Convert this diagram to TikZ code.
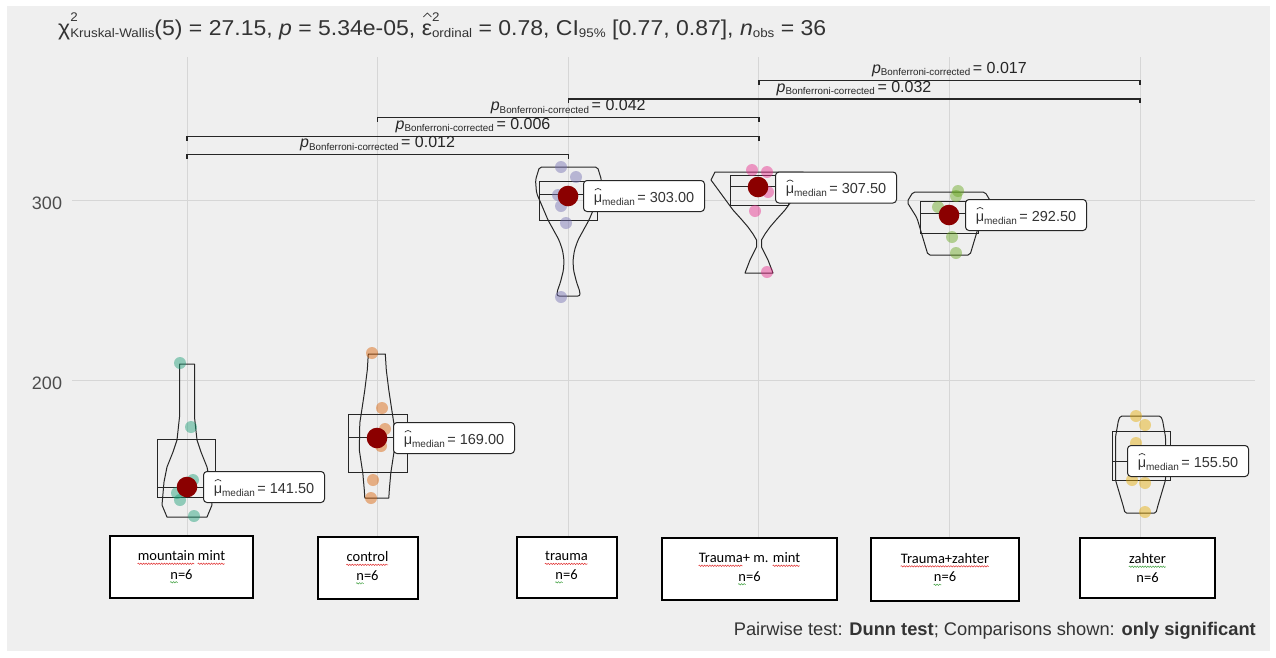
\documentclass[tikz,border=0pt]{standalone}
\usepackage{fontspec}
\setmainfont{Liberation Sans}
\newfontfamily\calfont{Carlito}
\newfontfamily\titlefont[FakeStretch=1.07]{Liberation Sans}
\usetikzlibrary{calc,decorations.pathmorphing}
\definecolor{panelbg}{HTML}{EFEFEF}
\definecolor{gridc}{HTML}{D6D6D6}
\definecolor{txtc}{HTML}{333333}
\definecolor{tickc}{HTML}{4D4D4D}
\definecolor{ca}{HTML}{1B9E77}
\definecolor{cb}{HTML}{D95F02}
\definecolor{cc}{HTML}{7570B3}
\definecolor{cd}{HTML}{E7298A}
\definecolor{ce}{HTML}{66A61E}
\definecolor{cf}{HTML}{E6AB02}
\definecolor{medred}{HTML}{8B0000}
\definecolor{squigred}{HTML}{E03030}
\definecolor{squiggrn}{HTML}{40A040}
\newsavebox\sqbox
\newcommand\sqw[2]{\sbox\sqbox{#2}\usebox\sqbox\llap{\tikz[x=1pt,y=1pt,baseline=0pt]{\draw[draw=#1, line width=0.5pt, decorate, decoration={snake, amplitude=0.7pt, segment length=2.6pt}] (0,-3) -- (\wd\sqbox,-3);}}}
\newcommand\redsq[1]{\sqw{squigred}{#1}}
\newcommand\grnsq[1]{\sqw{squiggrn}{#1}}
\newcommand\hatmark[3]{\rlap{\tikz[x=1pt,y=1pt,baseline=0pt]{\path (0,0); \draw[line width=0.7pt, line join=miter] (#1,#2) -- ++(#3,#3) -- ++(#3,-#3);}}}
\newcommand\ssub[2]{{\fontsize{12.5}{12.5}\selectfont\rlap{\raisebox{13.5pt}{#1}}\raisebox{-2.5pt}{#2}}}
\newcommand\medlab[1]{\hatmark{1}{12}{3.2}μ\raisebox{-3pt}{\fontsize{10}{10}\selectfont median}\,= #1}
\newcommand\pbon[1]{\textit{p}\raisebox{-2.5pt}{\fontsize{9.8}{10}\selectfont Bonferroni-corrected}\,= #1}
\tikzset{
  gridl/.style={draw=gridc, line width=1pt},
  brk/.style={draw=black!85, line width=1.4pt},
  brklab/.style={anchor=base, inner sep=0pt, text=black!85, font=\fontsize{16}{16}\selectfont},
  violin/.style={draw=black!85, line width=1pt, line join=round},
  boxl/.style={draw=black!85, line width=0.9pt},
  jit/.style={fill opacity=0.45},
  meddot/.style={fill=medred},
  medl/.style={draw=black!85, fill=white, rounded corners=3.5pt, line width=1pt, minimum height=31pt, minimum width=121pt, inner xsep=3pt, anchor=west, text=txtc, font=\fontsize{14.5}{16}\selectfont},
  catbox/.style={draw=black, line width=2pt, fill=white, align=center, inner sep=0pt, text=black, font=\calfont\fontsize{14.5}{18.5}\selectfont},
}
\begin{document}
\begin{tikzpicture}[x=1pt,y=-1pt]
\useasboundingbox (0,0) rectangle (1276,657);
\fill[white] (0,0) rectangle (1276,657);
\fill[panelbg] (7,6) rectangle (1270,651);
% grid
\coordinate (X1) at (187,0);
\coordinate (X2) at (377.6,0);
\coordinate (X3) at (568.2,0);
\coordinate (X4) at (758.8,0);
\coordinate (X5) at (949.4,0);
\coordinate (X6) at (1140,0);
\draw[gridl] (72,200) -- (1255,200);
\draw[gridl] (72,380) -- (1255,380);
\foreach \xx in {187,377.6,568.2,758.8,949.4,1140}{\draw[gridl] (\xx,57) -- (\xx,540);}
\node[font=\fontsize{18}{20}\selectfont, text=tickc, anchor=base] (t300) at (47,209) {300};
\node[font=\fontsize{18}{20}\selectfont, text=tickc, anchor=base] (t200) at (47,389) {200};
% brackets
\draw[brk] (758.8,84.5) -- (758.8,80.5) -- (1140,80.5) -- (1140,84.5);
\node[brklab] (b17) at (949.4,73) {\pbon{0.017}};
\draw[brk] (568.2,103) -- (568.2,99) -- (1140,99) -- (1140,103);
\node[brklab] (b32) at (854,92) {\pbon{0.032}};
\draw[brk] (377.6,121.5) -- (377.6,117.5) -- (758.8,117.5) -- (758.8,121.5);
\node[brklab] (b42) at (568.2,110.5) {\pbon{0.042}};
\draw[brk] (187,140.5) -- (187,136.5) -- (758.8,136.5) -- (758.8,140.5);
\node[brklab] (b06) at (473,129) {\pbon{0.006}};
\draw[brk] (187,158.5) -- (187,154.5) -- (568.2,154.5) -- (568.2,158.5);
\node[brklab] (b12) at (377.6,147.5) {\pbon{0.012}};
% violins
\draw[violin, shift={(187,0)}] (-7.5,364) -- (-7.5,417) -- (-10,440) -- (-14,452) -- (-20,467) -- (-23,482) -- (-25,505) -- (-20,517) -- (20,517) -- (25,505) -- (23,482) -- (20,467) -- (14,452) -- (10,440) -- (7.5,417) -- (7.5,364) -- cycle;
\draw[violin, shift={(376.8,0)}] (-8.5,354) -- (-9.5,370) -- (-12,390) -- (-15,410) -- (-17,423) -- (-17.5,450) -- (-14,473) -- (-12.5,490) -- (-12,498) -- (12,498) -- (12.5,490) -- (14,473) -- (17.5,450) -- (17,423) -- (15,410) -- (12,390) -- (9.5,370) -- (8.5,354) -- cycle;
\draw[violin, shift={(568.5,0)}, rounded corners=2pt] (-29,167) -- (-33,180) -- (-32,193) -- (-26,207) -- (-20.5,220) -- (-15,230) -- (-9.5,240) -- (-6,250) -- (-4.5,260) -- (-5,270) -- (-8,282) -- (-11.5,292) -- (-11.5,296) -- (11.5,296) -- (11.5,292) -- (8,282) -- (5,270) -- (4.5,260) -- (6,250) -- (9.5,240) -- (15,230) -- (20.5,220) -- (26,207) -- (32,193) -- (33,180) -- (29,167) -- cycle;
\draw[violin, shift={(759,0)}] (-44,172) -- (-48,180) -- (-37,195) -- (-26,210) -- (-17,220) -- (-11,227) -- (-6,234) -- (-2.5,240) -- (-2.5,247) -- (-6,254) -- (-9,260) -- (-14,273) -- (14,273) -- (9,260) -- (6,254) -- (2.5,247) -- (2.5,240) -- (6,234) -- (11,227) -- (17,220) -- (26,210) -- (37,195) -- (48,180) -- (44,172) -- cycle;
\draw[violin, shift={(949,0)}, rounded corners=2pt] (-36,192) -- (-42,202) -- (-32,218) -- (-27,235) -- (-21,255) -- (21,255) -- (27,235) -- (32,218) -- (42,202) -- (36,192) -- cycle;
\draw[violin, shift={(1140.5,0)}, rounded corners=1.5pt] (-20,416) -- (-22,420) -- (-25,437) -- (-25,480) -- (-17,507) -- (-15.5,513) -- (15.5,513) -- (17,507) -- (25,480) -- (25,437) -- (22,420) -- (20,416) -- cycle;
% boxes
\draw[boxl] (157,439) rectangle (215,497);
\draw[boxl] (348,414) rectangle (407,472);
\draw[boxl] (539,181) rectangle (597,220);
\draw[boxl] (730,175) rectangle (788,205);
\draw[boxl] (920,201.7) rectangle (978,233);
\draw[boxl] (1112,431) rectangle (1170,480);
\draw[boxl] (157,487) -- (204,487);
\draw[boxl] (348,437.5) -- (394,437.5);
\draw[boxl] (539,194) -- (584,194);
\draw[boxl] (730,186.5) -- (776,186.5);
\draw[boxl] (920,213.5) -- (966,213.5);
\draw[boxl] (1112,461) -- (1128,461);
% jittered points
\foreach \px/\py in {180/363,191/427,193/480,177/493,180/500,194/516}{\fill[ca,jit] (\px,\py) circle (6);}
\foreach \px/\py in {372/353,382/408,385/429,381/446,373/480,371/498}{\fill[cb,jit] (\px,\py) circle (6);}
\foreach \px/\py in {561/167,576/177,558/195,561/206,566/223,561/297}{\fill[cc,jit] (\px,\py) circle (6);}
\foreach \px/\py in {752/170,767/172,760/185,768/192,755/211,767/272}{\fill[cd,jit] (\px,\py) circle (6);}
\foreach \px/\py in {958/191,956/196,938/207,945/216,952/237,956/253}{\fill[ce,jit] (\px,\py) circle (6);}
\foreach \px/\py in {1136/416,1145/425,1136/443,1132/480,1145/483,1145/512}{\fill[cf,jit] (\px,\py) circle (6);}
% medians
\fill[meddot] (187,487) circle (10.3);
\fill[meddot] (377,438) circle (10.3);
\fill[meddot] (568,196) circle (10.3);
\fill[meddot] (758,187) circle (10.3);
\fill[meddot] (949,215) circle (10.3);
\node[medl] (l1) at (203,487) {\medlab{141.50}};
\node[medl] (l2) at (393,438) {\medlab{169.00}};
\node[medl] (l3) at (583,196) {\medlab{303.00}};
\node[medl] (l4) at (775,187.5) {\medlab{307.50}};
\node[medl] (l5) at (965,215) {\medlab{292.50}};
\node[medl] (l6) at (1127,461) {\medlab{155.50}};
% category boxes
\node[catbox, minimum width=143pt, minimum height=62pt] (k1) at (181.5,567) {\redsq{mountain} \redsq{mint}\\\grnsq{n}=6};
\node[catbox, minimum width=100pt, minimum height=62pt] (k2) at (367.5,568) {\redsq{control}\\\grnsq{n}=6};
\node[catbox, minimum width=100pt, minimum height=61pt] (k3) at (566.5,567.5) {\redsq{trauma}\\\grnsq{n}=6};
\node[catbox, minimum width=175pt, minimum height=62pt] (k4) at (749.5,569) {\redsq{Trauma}+ m. \redsq{mint}\\\grnsq{n}=6};
\node[catbox, minimum width=148pt, minimum height=63pt] (k5) at (945,569.5) {\redsq{Trauma+zahter}\\\grnsq{n}=6};
\node[catbox, minimum width=135pt, minimum height=60pt] (k6) at (1147.5,568) {\grnsq{zahter}\\n=6};
% title and caption
\node[anchor=base west, inner sep=0pt, text=txtc, font=\titlefont\fontsize{21.5}{26}\selectfont] (title) at (58,35) {χ\ssub{2}{Kruskal-Wallis}(5) = 27.15, \textit{p} = 5.34e-05, \hatmark{1.5}{18}{4}ε\ssub{2}{ordinal} = 0.78, CI\ssub{}{95\%} [0.77, 0.87], \textit{n}\ssub{}{obs} = 36};
\node[anchor=base east, inner sep=0pt, text=txtc, font=\fontsize{18.3}{21}\selectfont] (foot) at (1256,635) {Pairwise test: \textbf{Dunn test}; Comparisons shown: \textbf{only significant}};
\end{tikzpicture}
\end{document}
